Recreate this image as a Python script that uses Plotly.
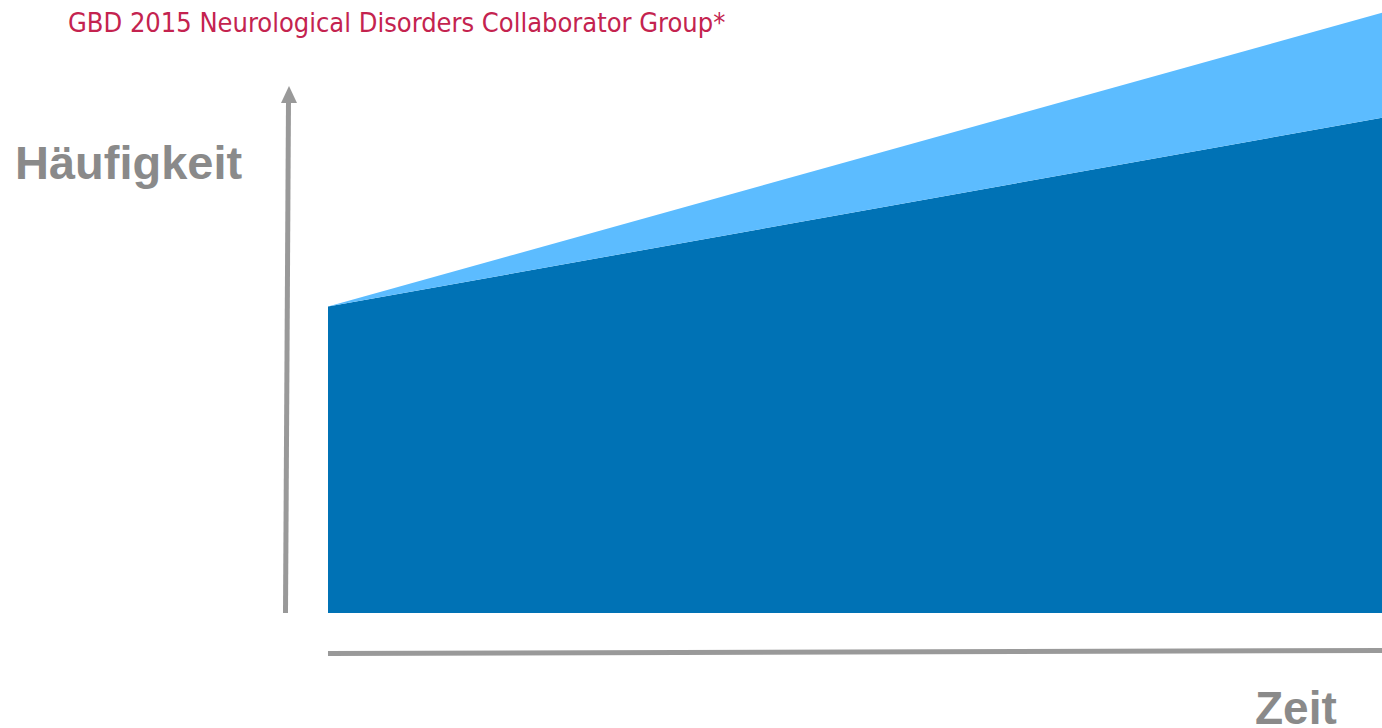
import plotly.graph_objects as go

# Data
time_points = [0, 1]
base_values = [50.0, 80.8]      # dark blue (lower area)
total_values = [50.0, 97.9]     # light blue top (upper area boundary)

title_text = "GBD 2015 Neurological Disorders Collaborator Group*"
y_label = "Häufigkeit"
x_label = "Zeit"

W, H = 1382, 728
L, R, T, B = 328, 0, 0, 115
PW, PH = W - L - R, H - T - B

def px(x):
    return (x - L) / PW

def py(y):
    return (H - B - y) / PH

dark = "#0072B5"
light = "#5CBCFF"
grey = "#999999"
txt_grey = "#8A8A8A"

fig = go.Figure()
fig.add_trace(go.Scatter(x=time_points, y=base_values, mode="lines",
                         line=dict(width=0, color=dark), fill="tozeroy",
                         fillcolor=dark, hoverinfo="skip", showlegend=False))
fig.add_trace(go.Scatter(x=time_points, y=total_values, mode="lines",
                         line=dict(width=0, color=light), fill="tonexty",
                         fillcolor=light, hoverinfo="skip", showlegend=False))

shapes = [
    # y axis shaft
    dict(type="line", xref="paper", yref="paper", x0=px(285.5), y0=py(613),
         x1=px(288.5), y1=py(100), line=dict(color=grey, width=5)),
    # arrow head
    dict(type="path", xref="paper", yref="paper",
         path=f"M {px(281)} {py(103)} L {px(289)} {py(86)} L {px(297)} {py(103)} Z",
         fillcolor=grey, line=dict(width=0)),
    # x axis line
    dict(type="line", xref="paper", yref="paper", x0=px(328), y0=py(653.5),
         x1=px(1382), y1=py(650.5), line=dict(color=grey, width=5)),
]

annotations = [
    dict(text=title_text, xref="paper", yref="paper", x=px(66), y=py(22),
         xanchor="left", yanchor="middle", showarrow=False,
         font=dict(family="Liberation Sans Narrow, DejaVu Sans Condensed, sans-serif",
                   size=27, color="#C4234F")),
    dict(text=f"<b>{y_label}</b>", xref="paper", yref="paper", x=px(13), y=py(162),
         xanchor="left", yanchor="middle", showarrow=False,
         font=dict(family="Liberation Sans, Arial, sans-serif", size=47, color=txt_grey)),
    dict(text=f"<b>{x_label}</b>", xref="paper", yref="paper", x=px(1339), y=py(708),
         xanchor="right", yanchor="middle", showarrow=False,
         font=dict(family="Liberation Sans, Arial, sans-serif", size=46, color=txt_grey)),
]

fig.update_layout(
    width=W, height=H,
    margin=dict(l=L, r=R, t=T, b=B),
    paper_bgcolor="white", plot_bgcolor="white",
    xaxis=dict(range=[0, 1], visible=False, fixedrange=True),
    yaxis=dict(range=[0, 100], visible=False, fixedrange=True),
    shapes=shapes, annotations=annotations,
    showlegend=False,
)

fig.write_html("out.html", config={"displayModeBar": False},
               post_script="document.body.style.margin='0px';document.body.style.overflow='hidden';")
